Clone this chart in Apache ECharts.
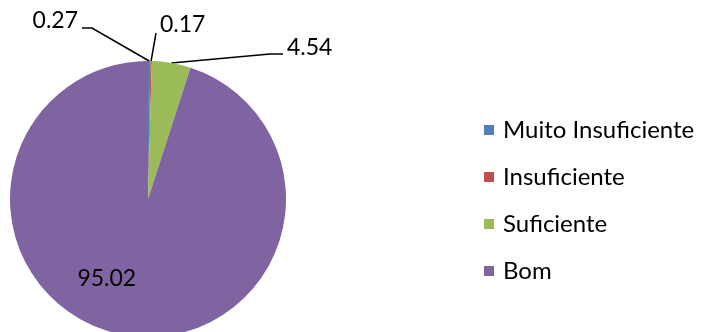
<!DOCTYPE html>
<html>
<head>
<meta charset="utf-8">
<script src="https://cdn.jsdelivr.net/npm/echarts@6/dist/echarts.min.js"></script>
<style>
  html, body { margin: 0; padding: 0; background: #fff; }
  #chart { width: 703px; height: 332px; }
</style>
</head>
<body>
<div id="chart"></div>
<script>
// Category names and their percentage shares
const categories = ['Muito Insuficiente', 'Insuficiente', 'Suficiente', 'Bom'];
const values = [0.27, 0.17, 4.54, 95.02];
const colors = ['#4F81BD', '#C0504D', '#9BBB59', '#8064A2'];

const FONT = 'Lato';

// Where each outside label sits, with the elbow of its leader line
const outsideLabels = {
  0: { x: 78, y: 21, align: 'right', elbow: [92, 28], end: [82, 28] },
  1: { x: 160, y: 25, align: 'left', elbow: null, end: [156, 33] },
  2: { x: 287, y: 48, align: 'left', elbow: [270, 54], end: [283, 54] }
};

const data = categories.map((name, i) => {
  const item = { name: name, value: values[i], itemStyle: { color: colors[i] } };
  if (i === 3) {
    item.label = { position: 'inside' };
    item.labelLine = { show: false };
  }
  return item;
});

const chart = echarts.init(document.getElementById('chart'), null, { renderer: 'canvas' });
chart.setOption({
  animation: false,
  legend: {
    orient: 'vertical',
    left: 479,
    top: 113,
    icon: 'rect',
    itemWidth: 10,
    itemHeight: 10,
    itemGap: 23,
    data: categories,
    textStyle: { fontFamily: FONT, fontSize: 24, color: '#000', padding: [0, 0, 0, 4] }
  },
  series: [{
    type: 'pie',
    center: [148, 199],
    radius: [0, 138],
    startAngle: 90,
    clockwise: true,
    avoidLabelOverlap: false,
    label: {
      show: true,
      position: 'outside',
      formatter: p => p.value.toFixed(2),
      fontFamily: FONT,
      fontSize: 23,
      color: '#000'
    },
    labelLine: {
      show: true,
      length: 10,
      length2: 10,
      lineStyle: { color: '#000', width: 1.5 }
    },
    labelLayout: function (params) {
      const i = params.dataIndex;
      if (i === 3) {
        return { dx: -30, dy: 8 };
      }
      const cfg = outsideLabels[i];
      const anchor = params.labelLinePoints ? params.labelLinePoints[0] : null;
      const pts = [];
      if (anchor) pts.push(anchor);
      if (cfg.elbow) pts.push(cfg.elbow);
      pts.push(cfg.end);
      return {
        x: cfg.x,
        y: cfg.y,
        align: cfg.align,
        verticalAlign: 'middle',
        labelLinePoints: pts
      };
    },
    data: data
  }]
});
</script>
</body>
</html>
